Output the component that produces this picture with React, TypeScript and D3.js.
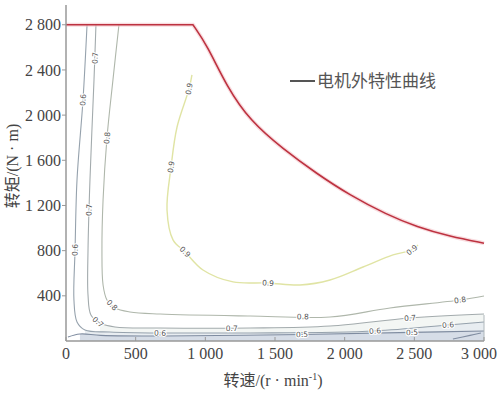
import React from "react";
import * as d3 from "d3";

const xTicks = [0, 500, 1000, 1500, 2000, 2500, 3000];
const yTicks = [400, 800, 1200, 1600, 2000, 2400, 2800];

const extSpeed = [911, 1012, 1155, 1321, 1557, 1801, 2038, 2300, 2519, 2756, 3000];
const extTorque = [2800, 2620, 2250, 1950, 1700, 1480, 1290, 1120, 1010, 925, 866];
const flatSpeed = [0, 911];
const flatTorque = [2800, 2800];

const c90: [number, number][] = [[904, 2356], [883, 2232], [797, 1895], [754, 1541], [725, 1160], [768, 896], [854, 790], [983, 629], [1199, 523], [1450, 514], [1679, 496], [1895, 540], [2132, 655], [2347, 762], [2483, 806], [2526, 850]];
const c80: [number, number][] = [[380, 2800], [337, 2312], [294, 1798], [266, 1249], [258, 806], [266, 496], [294, 363], [352, 292], [459, 257], [675, 239], [1321, 221], [1895, 213], [2325, 292], [2828, 363], [3000, 399]];
const c70: [number, number][] = [[215, 2800], [201, 2312], [172, 1426], [158, 806], [158, 407], [179, 230], [244, 159], [352, 124], [675, 115], [1321, 115], [1895, 133], [2469, 204], [3000, 239]];
const c60: [number, number][] = [[151, 2800], [122, 2134], [79, 1426], [65, 806], [57, 363], [79, 168], [136, 97], [316, 80], [675, 71], [1321, 71], [2218, 89], [2742, 142], [3000, 168]];
const c50: [number, number][] = [[14, 35], [100, 62], [250, 50], [700, 44], [1694, 58], [2483, 76], [3000, 89]];
const c50b: [number, number][] = [[2777, 18], [2900, 50], [2978, 71]];

const l90: [number, number][] = [[883, 2232], [754, 1541], [854, 790], [1450, 514], [2483, 806]];
const l80: [number, number][] = [[294, 1798], [330, 319], [1700, 215], [2828, 363]];
const l70: [number, number][] = [[208, 2506], [165, 1160], [230, 168], [1190, 115], [2469, 204]];
const l60: [number, number][] = [[122, 2134], [65, 806], [675, 71], [2218, 89], [2742, 142]];
const l50: [number, number][] = [[1694, 58], [2483, 76]];

const W = 500, H = 393;
const x = d3.scaleLinear().domain([0, 3000]).range([66, 484]);
const y = d3.scaleLinear().domain([0, 2975]).range([341, 5]);

const fmt = (v: number) => (v >= 1000 ? `${Math.floor(v / 1000)} ${String(v % 1000).padStart(3, "0")}` : String(v));

const line = d3.line<[number, number]>().x(d => x(d[0])).y(d => y(d[1])).curve(d3.curveCatmullRom.alpha(0.5));

function labelAngle(pts: [number, number][], p: [number, number]) {
  const px = x(p[0]), py = y(p[1]);
  let best = 0, bd = Infinity;
  for (let i = 0; i < pts.length - 1; i++) {
    const mx = (x(pts[i][0]) + x(pts[i + 1][0])) / 2;
    const my = (y(pts[i][1]) + y(pts[i + 1][1])) / 2;
    const d = (mx - px) ** 2 + (my - py) ** 2;
    if (d < bd) { bd = d; best = i; }
  }
  const a = pts[best], b = pts[best + 1];
  let ang = (Math.atan2(y(b[1]) - y(a[1]), x(b[0]) - x(a[0])) * 180) / Math.PI;
  if (ang > 90) ang -= 180;
  if (ang < -90) ang += 180;
  return ang;
}

const contours = [
  { pts: c50, labels: l50, text: "0.5", color: "#7f8ca0" },
  { pts: c50b, labels: [] as [number, number][], text: "0.5", color: "#7f8ca0" },
  { pts: c60, labels: l60, text: "0.6", color: "#96a2ad" },
  { pts: c70, labels: l70, text: "0.7", color: "#a3abad" },
  { pts: c80, labels: l80, text: "0.8", color: "#afb7ab" },
  { pts: c90, labels: l90, text: "0.9", color: "#e0e4a4" },
];

const bandArea = d3.area<[number, number]>().x(d => x(d[0])).y0(y(0)).y1(d => y(d[1])).curve(d3.curveCatmullRom.alpha(0.5));

export default function App() {
  const ext: [number, number][] = extSpeed.map((s, i) => [s, extTorque[i]]);
  const flat: [number, number][] = flatSpeed.map((s, i) => [s, flatTorque[i]]);
  const extLine = d3.line<[number, number]>().x(d => x(d[0])).y(d => y(d[1])).curve(d3.curveBasis)(ext) as string;
  const flatLine = d3.line<[number, number]>().x(d => x(d[0])).y(d => y(d[1]))(flat) as string;
  const serif = "'Liberation Serif', 'Noto Sans CJK SC', serif";
  return (
    <svg width={W} height={H} style={{ position: "absolute", left: 0, top: 0, background: "#fff" }}>
      <rect width={W} height={H} fill="#fff" />
      {/* faint bottom bands */}
      <path d={bandArea(c70.slice(6)) as string} fill="#f3f6f4" />
      <path d={bandArea(c60.slice(6)) as string} fill="#e8edf1" />
      <path d={bandArea(c50.slice(1)) as string} fill="#d6dde7" />
      {contours.map((c, i) => (
        <path key={i} d={line(c.pts) as string} fill="none" stroke={c.color} strokeWidth={i === 5 ? 1.4 : 1.1} />
      ))}
      {contours.map((c, i) =>
        c.labels.map((p, j) => {
          const ang = labelAngle(c.pts, p);
          return (
            <text key={`${i}-${j}`} transform={`translate(${x(p[0])},${y(p[1])}) rotate(${ang})`}
              textAnchor="middle" dy="0.35em" fontSize={7.5} fontFamily="'DejaVu Sans', sans-serif"
              fill="#555" stroke="#fff" strokeWidth={2.2} paintOrder="stroke">{c.text}</text>
          );
        })
      )}
      <line x1={x(3000)} x2={x(3000)} y1={y(0)} y2={y(230)} stroke="#b0b8bc" strokeWidth={1} />
      {/* external characteristic curve */}
      <path d={flatLine + extLine.replace(/^M/, "L")} fill="none" stroke="#f3c4ca" strokeWidth={4} opacity={0.6} />
      <path d={flatLine + extLine.replace(/^M/, "L")} fill="none" stroke="#bd3240" strokeWidth={1.6} />
      {/* axes */}
      <line x1={x(0)} x2={x(0)} y1={y(0)} y2={5} stroke="#999" strokeWidth={1.5} />
      <line x1={x(0)} x2={x(3000)} y1={y(0)} y2={y(0)} stroke="#999" strokeWidth={1.5} />
      {yTicks.map(t => (
        <g key={t}>
          <line x1={x(0) - 4} x2={x(0)} y1={y(t)} y2={y(t)} stroke="#999" />
          <text x={x(0) - 5} y={y(t)} dy="0.35em" textAnchor="end" fontSize={16} fontFamily={serif} fill="#444">{fmt(t)}</text>
        </g>
      ))}
      {xTicks.map(t => (
        <g key={t}>
          <line x1={x(t)} x2={x(t)} y1={y(0)} y2={y(0) - 4} stroke="#999" />
          <text x={Math.min(x(t), W - 21)} y={359} textAnchor="middle" fontSize={16} fontFamily={serif} fill="#444">{fmt(t)}</text>
        </g>
      ))}
      <text x={273} y={386} textAnchor="middle" fontSize={16} fontFamily={serif} fill="#444">
        转速/(r · min<tspan dy={-6} fontSize={10}>-1</tspan><tspan dy={6}>)</tspan>
      </text>
      <text transform="translate(18,166) rotate(-90)" textAnchor="middle" fontSize={16} fontFamily={serif} fill="#444">转矩/(N · m)</text>
      {/* legend */}
      <line x1={290} x2={315} y1={81} y2={81} stroke="#555" strokeWidth={2} />
      <text x={317} y={87} fontSize={17} fontFamily={serif} fill="#555">电机外特性曲线</text>
    </svg>
  );
}
